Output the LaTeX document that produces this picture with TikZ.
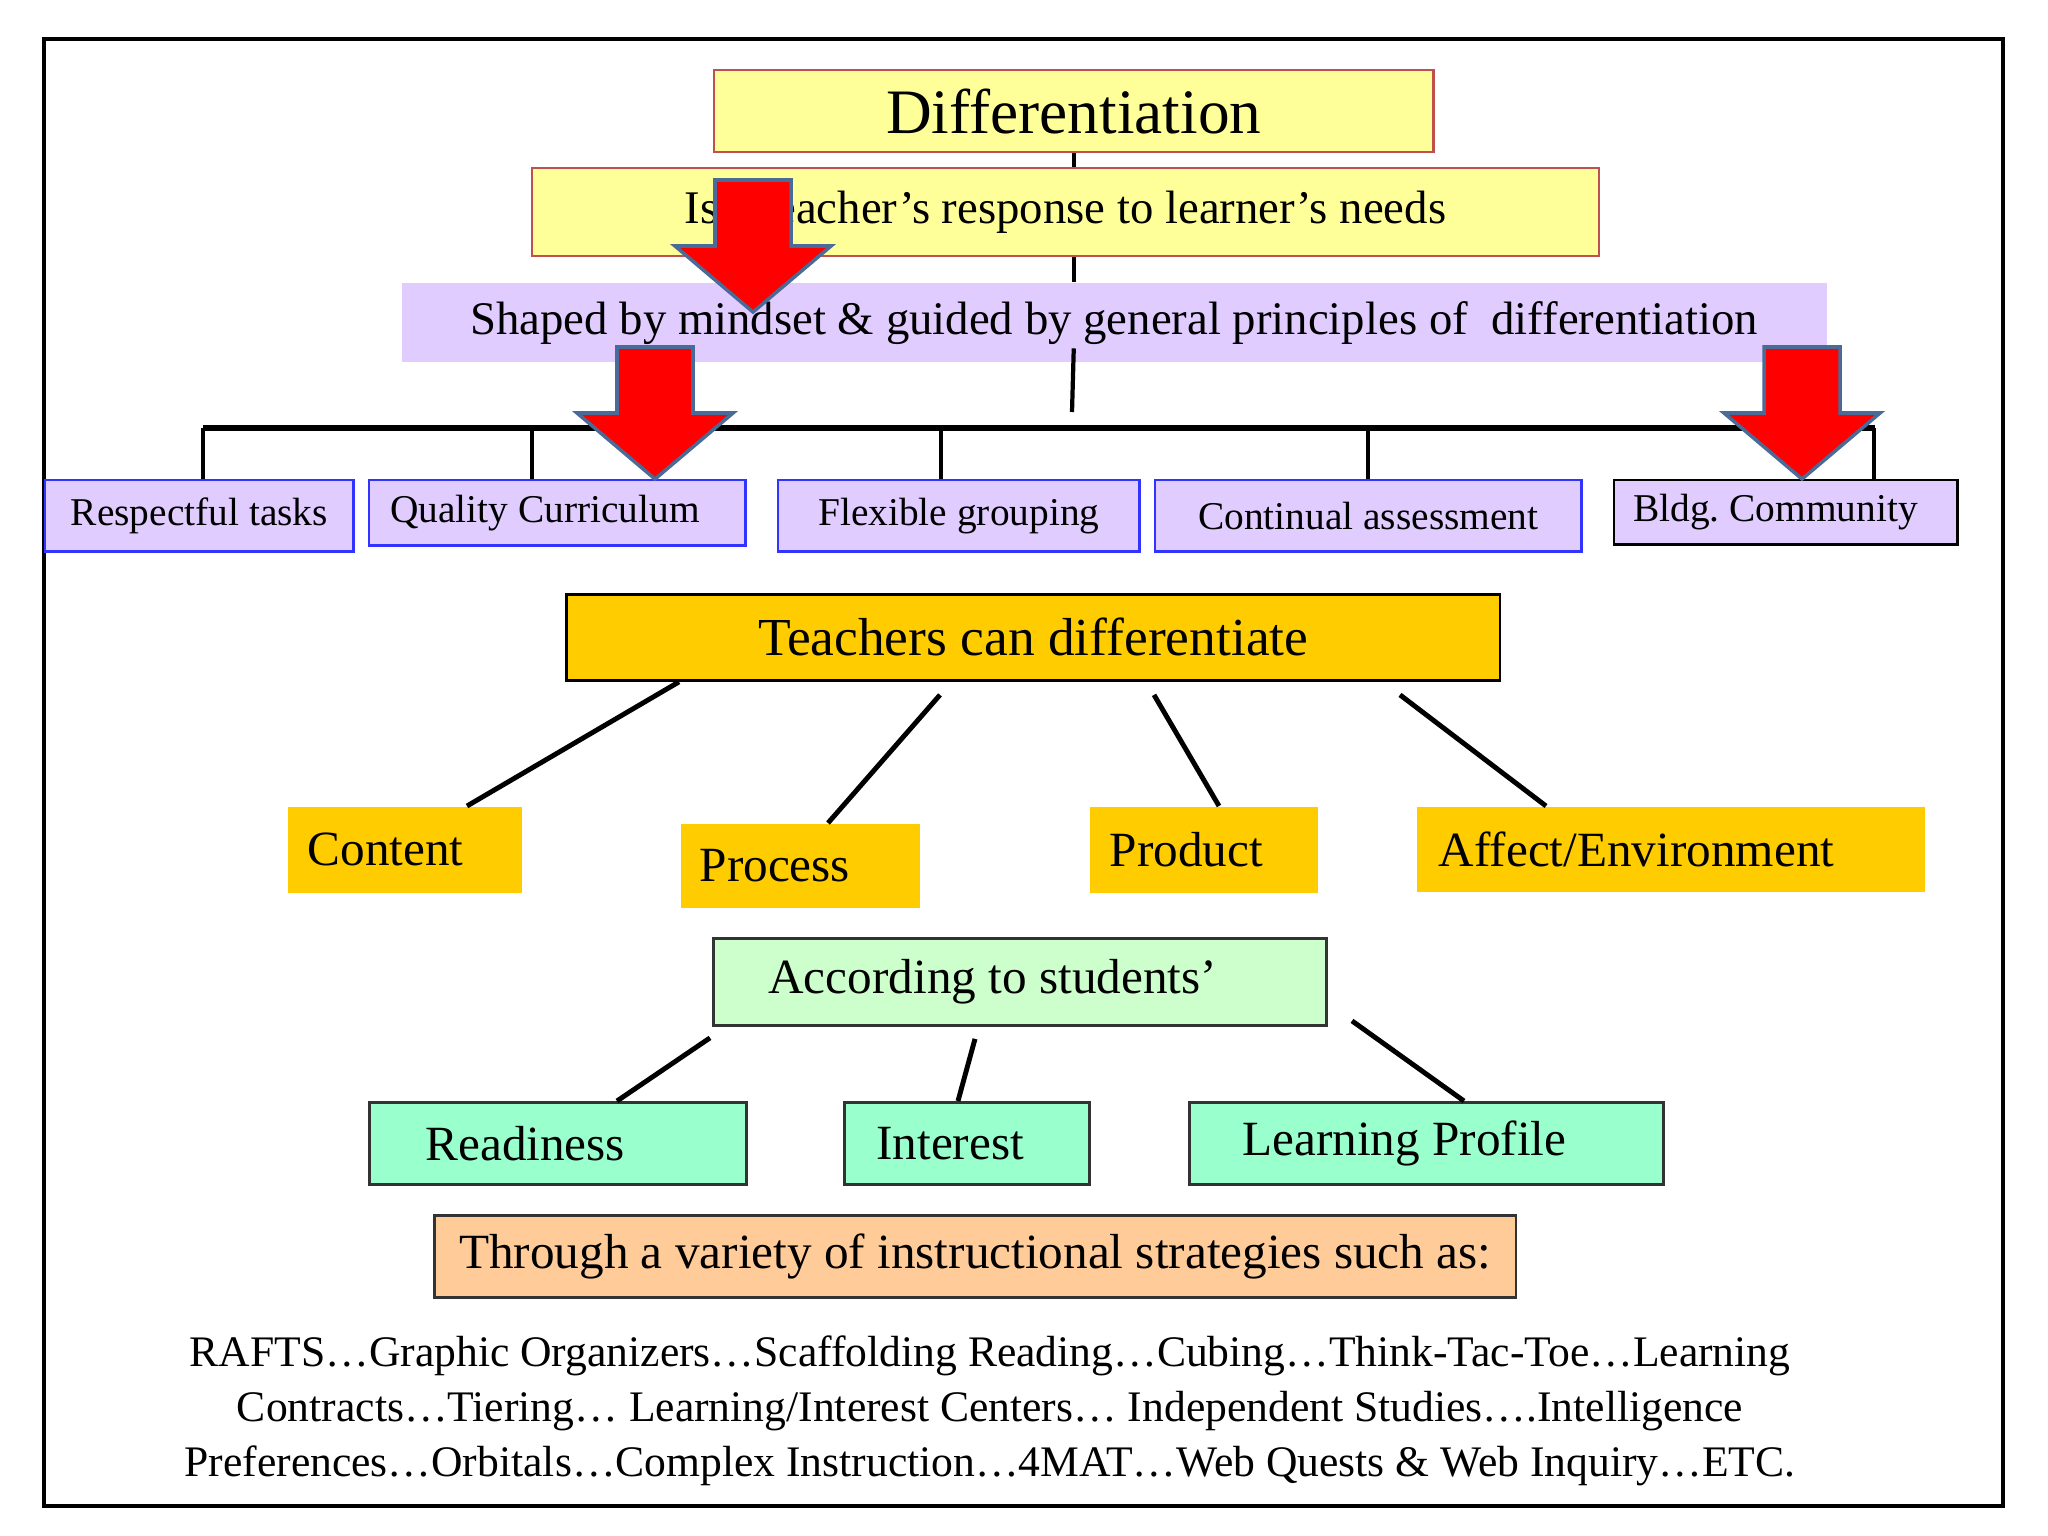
\documentclass[tikz,border=0pt]{standalone}
\usepackage{fontspec}
\setmainfont{Liberation Serif}
\usepackage{tikz}
\usetikzlibrary{calc}

\definecolor{paleyellow}{HTML}{FFFF99}
\definecolor{boxred}{HTML}{C0504D}
\definecolor{lavender}{HTML}{E0CCFF}
\definecolor{rowblue}{HTML}{3333FF}
\definecolor{gold}{HTML}{FFCC00}
\definecolor{mint}{HTML}{CCFFCC}
\definecolor{aqua}{HTML}{99FFCC}
\definecolor{peach}{HTML}{FFCC99}
\definecolor{arrowedge}{HTML}{4A6A98}
\definecolor{edgegray}{HTML}{333333}

\newcommand{\boxfont}[1]{\fontsize{#1}{#1}\selectfont}

\tikzset{
  redarrow/.pic={
    \filldraw[fill=red,draw=arrowedge,line width=1pt,line join=miter]
      (-38,-132) -- (38,-132) -- (38,-66) -- (78,-66) -- (0,0)
      -- (-78,-66) -- (-38,-66) -- cycle;
  }
}

\begin{document}
\begin{tikzpicture}[x=0.01cm,y=-0.01cm,
  link/.style={line width=1.4pt},
  spine/.style={line width=1.2pt},
  bar/.style={line width=1.8pt},
  box/.style={rectangle,anchor=north west,inner ysep=0pt},
  padtext/.style 2 args={align=flush left,inner xsep=#1,text width=#2,
    execute at begin node={\spaceskip=0pt\xspaceskip=0pt\relax}},
  ybox/.style={box,fill=paleyellow,draw=boxred,line width=0.6pt},
  rowbox/.style={box,fill=lavender,draw=rowblue,line width=0.7pt,font=\boxfont{11.2}},
  gbox/.style={box,fill=gold,font=\boxfont{14}},
  sbox/.style={box,fill=aqua,draw=edgegray,line width=0.8pt,font=\boxfont{14}}]
\useasboundingbox (0,0) rectangle (2048,1536);
\draw[line width=1.4pt] (44,39) rectangle (2003,1506);

% top: title and the two statements under it
\node[ybox,minimum width=7.19cm,minimum height=0.82cm,font=\boxfont{18}] (diff) at (713,69) {Differentiation};
\node[ybox,minimum width=10.66cm,minimum height=0.88cm,font=\boxfont{13.3}] (resp) at (531,167) {Is a teacher’s response to learner’s needs};
\node[box,fill=lavender,minimum width=14.24cm,minimum height=0.79cm,text depth=0.08cm,font=\boxfont{13.3}] (shaped) at (401,282) {Shaped by mindset \& guided by general principles of\enspace differentiation};

% five principles on a bar
\node[rowbox,minimum width=3.08cm,minimum height=0.71cm] (rtasks) at (44,479) {Respectful tasks};
\node[rowbox,minimum height=0.65cm,padtext={0.21cm}{3.34cm}] (qcurr) at (368,479) {Quality Curriculum};
\node[rowbox,minimum width=3.61cm,minimum height=0.71cm] (flex) at (777,479) {Flexible grouping};
\node[rowbox,minimum width=4.26cm,minimum height=0.71cm] (cont) at (1154,479) {Continual assessment};
\node[rowbox,draw=black,minimum height=0.64cm,padtext={0.19cm}{3.05cm}] (bldg) at (1613,479) {Bldg.\ Community};

\draw[spine] (diff.south) -- (resp.north -| diff.south);
\draw[spine] (resp.south -| diff.south) -- (shaped.north -| diff.south);
\coordinate (hub) at (1072,412);
\draw[spine] (shaped.south -| diff.south) ++(0,-14) -- (hub);
\coordinate (barL) at (203,428);
\coordinate (barR) at (1875,428);
\draw[bar] (barL) -- (barR);
\foreach \x/\n in {203/rtasks,532/qcurr,941/flex,1368/cont,1874/bldg}
  \draw[spine] (barL -| \x,0) -- (\n.north -| \x,0);

% what teachers can differentiate
\node[box,fill=gold,draw=black,line width=0.8pt,minimum width=9.33cm,minimum height=0.86cm,font=\boxfont{15.2}] (teach) at (565,593) {Teachers can differentiate};
\node[gbox,minimum height=0.86cm,padtext={0.20cm}{1.94cm}] (content) at (287,806) {Content};
\node[gbox,minimum height=0.84cm,padtext={0.19cm}{2.01cm}] (process) at (680,823) {Process};
\node[gbox,minimum height=0.86cm,padtext={0.20cm}{1.88cm}] (product) at (1089,806) {Product};
\node[gbox,minimum height=0.85cm,padtext={0.22cm}{4.64cm}] (affect) at (1416,806) {Affect/Environment};

\foreach \a/\d/\b/\n in {679/0/467/content,940/13/828/process,1154/13/1219/product,1400/13/1546/affect}
  \draw[link] (teach.south -| \a,0) ++(0,\d) -- (\n.north -| \b,0);

% according to students'
\node[box,fill=mint,draw=edgegray,line width=0.8pt,minimum height=0.87cm,padtext={0.55cm}{5.03cm},font=\boxfont{14}] (accord) at (712,937) {According to students’};
\node[sbox,minimum height=0.82cm,padtext={0.56cm}{2.65cm}] (ready) at (368,1101) {Readiness};
\node[sbox,minimum height=0.82cm,padtext={0.32cm}{1.81cm}] (interest) at (843,1101) {Interest};
\node[sbox,minimum height=0.82cm,padtext={0.53cm}{3.68cm}] (lprof) at (1188,1101) {Learning Profile};

\draw[link] (accord.south -| 710,0) ++(0,11) -- (ready.north -| 617,0);
\draw[link] (accord.south -| 975,0) ++(0,12) -- (interest.north -| 958,0);
\draw[link] (accord.south -| 1352,0) ++(0,-6) -- (lprof.north -| 1464,0);

% strategies
\node[box,fill=peach,draw=edgegray,line width=0.8pt,minimum width=10.81cm,minimum height=0.82cm,font=\boxfont{14}] (through) at (433,1214) {Through a variety of instructional strategies such as:};
\node[align=center,font=\fontsize{12.4}{15.6}\selectfont] (strategies) at (990,1411)
  {RAFTS…Graphic Organizers…Scaffolding Reading…Cubing…Think-Tac-Toe…Learning\\
   Contracts…Tiering… Learning/Interest Centers… Independent Studies….Intelligence\\
   Preferences…Orbitals…Complex Instruction…4MAT…Web Quests \& Web Inquiry…ETC.};

% red arrows on top
\pic (arrowA) at (753,312) {redarrow};
\pic (arrowB) at (qcurr.north -| 655,0) {redarrow};
\pic (arrowC) at (bldg.north -| 1802,0) {redarrow};
\end{tikzpicture}
\end{document}
